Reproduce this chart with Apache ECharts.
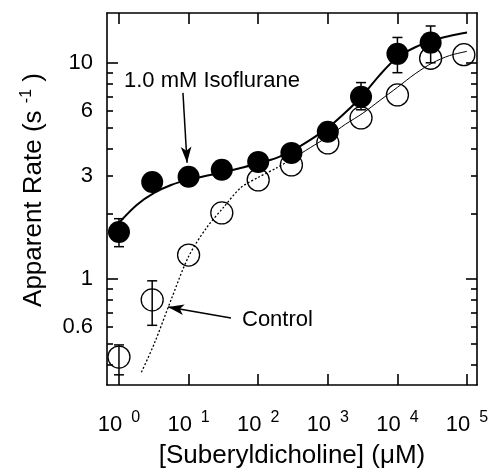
<!DOCTYPE html>
<html>
<head>
<meta charset="utf-8">
<script src="https://cdn.jsdelivr.net/npm/echarts@6/dist/echarts.min.js"></script>
<style>
  html, body { margin: 0; background: #fff; }
  #chart { width: 488px; height: 468px; }
</style>
</head>
<body>
<div id="chart"></div>
<script>
// concentrations in uM, rates in s^-1
const isoX = [1, 3, 10, 30, 100, 300, 1000, 3000, 10000, 30000]
const isoY = [1.65, 2.81, 2.97, 3.2, 3.48, 3.83, 4.8, 6.96, 11.0, 12.4]
const ctrlX = [1, 3, 10, 30, 100, 300, 1000, 3000, 10000, 30000, 90000]
const ctrlY = [0.435, 0.8, 1.29, 2.02, 2.87, 3.37, 4.26, 5.56, 7.1, 10.5, 10.9]

// error bars
const isoErrX = [1, 3000, 10000, 30000]
const isoErrLo = [1.41, 6.06, 9.0, 10.0]
const isoErrHi = [1.9, 8.1, 13.1, 14.8]
const ctrlErrX = [1, 3]
const ctrlErrLo = [0.36, 0.61]
const ctrlErrHi = [0.495, 0.98]

// fitted curves
const isoFitX = [1, 1.8, 3.2, 5.6, 10, 18, 32, 56, 100, 180, 320, 560, 1000, 1800, 3200, 5600, 10000, 18000, 32000, 56000, 100000]
const isoFitY = [1.82, 2.2, 2.5, 2.72, 2.88, 3.0, 3.12, 3.26, 3.43, 3.62, 3.95, 4.4, 5.0, 5.9, 7.1, 8.8, 10.6, 11.8, 12.7, 13.3, 13.8]
const ctrlFitX = [2.1, 3.2, 5.6, 10, 18, 32, 56, 100, 180, 320]
const ctrlFitY = [0.37, 0.5, 0.8, 1.27, 1.72, 2.15, 2.64, 2.95, 3.25, 3.62]
const ctrlFit2X = [320, 560, 1000, 1800, 3200, 5600, 10000, 18000, 32000, 56000, 100000]
const ctrlFit2Y = [3.62, 4.05, 4.55, 5.2, 5.85, 6.7, 7.7, 8.9, 10.0, 10.8, 11.3]

// axes
const xMin = 0.673, xMax = 139000
const yMin = 0.323, yMax = 17.0
const xDecades = [1, 10, 100, 1000, 10000, 100000]
const yMinorTicks = [0.4, 0.5, 0.6, 0.7, 0.8, 0.9, 2, 3, 4, 5, 6, 7, 8, 9]
const yMajorTicks = [1, 10]
const yLabels = [0.6, 1, 3, 6, 10]

const L = Math.log10
const FONT = 'Liberation Sans'
const pts = (xs, ys) => xs.map((x, i) => [L(x), L(ys[i])])
const errs = (xs, lo, hi) => xs.map((x, i) => [L(x), L(lo[i]), L(hi[i])])

const chart = echarts.init(document.getElementById('chart'))

const black = { color: '#000', width: 1.6 }

function xAxis(position, labels) {
  return {
    type: 'value',
    position: position,
    min: L(xMin),
    max: L(xMax),
    axisLine: { show: true, onZero: false, lineStyle: black },
    axisTick: { show: true, inside: true, length: 11, customValues: xDecades.map(L), lineStyle: black },
    axisLabel: {
      show: labels,
      customValues: xDecades.map(L),
      margin: 19,
      formatter: v => '{b|10}{s|' + Math.round(v) + '}',
      rich: {
        b: { fontFamily: FONT, fontSize: 22, color: '#000', padding: [10, 0, 0, 0] },
        s: { fontFamily: FONT, fontSize: 16, color: '#000', padding: [0, 0, 4, 9] },
      },
    },
    splitLine: { show: false },
    name: labels ? '[Suberyldicholine] (\u03bcM)' : '',
    nameLocation: 'middle',
    nameGap: 58,
    nameTextStyle: { fontFamily: FONT, fontSize: 26, color: '#000' },
  }
}

function yAxis(position, ticks, len, line, labels) {
  return {
    type: 'value',
    position: position,
    min: L(yMin),
    max: L(yMax),
    axisLine: { show: line, onZero: false, lineStyle: black },
    axisTick: { show: true, inside: true, length: len, customValues: ticks.map(L), lineStyle: black },
    axisLabel: {
      show: labels,
      customValues: yLabels.map(L),
      margin: 14,
      fontFamily: FONT,
      fontSize: 22,
      color: '#000',
      formatter: v => String(Number(Math.pow(10, v).toPrecision(2))),
    },
    splitLine: { show: false },
    name: labels ? '{t|Apparent Rate (s }{s|-1}{t| )}' : '',
    nameLocation: 'middle',
    nameGap: 58,
    nameTextStyle: {
      padding: [0, 0, 0, 18],
      rich: {
        t: { fontFamily: FONT, fontSize: 26, color: '#000' },
        s: { fontFamily: FONT, fontSize: 16, color: '#000', padding: [0, 0, 14, 0] },
      },
    },
  }
}

function errorBars(data) {
  return {
    type: 'custom',
    data: data,
    encode: { x: 0, y: [1, 2] },
    z: 3,
    silent: true,
    renderItem: (params, api) => {
      const lo = api.coord([api.value(0), api.value(1)])
      const hi = api.coord([api.value(0), api.value(2)])
      const w = 5
      const style = { stroke: '#000', lineWidth: 1.5 }
      return {
        type: 'group',
        children: [
          { type: 'line', shape: { x1: lo[0], y1: lo[1], x2: hi[0], y2: hi[1] }, style: style },
          { type: 'line', shape: { x1: lo[0] - w, y1: lo[1], x2: lo[0] + w, y2: lo[1] }, style: style },
          { type: 'line', shape: { x1: hi[0] - w, y1: hi[1], x2: hi[0] + w, y2: hi[1] }, style: style },
        ],
      }
    },
  }
}

chart.setOption({
  animation: false,
  grid: { left: 107, right: 11, top: 13, bottom: 83, outerBoundsMode: 'none' },
  xAxis: [xAxis('bottom', true), xAxis('top', false)],
  yAxis: [
    yAxis('left', yMinorTicks, 6, true, true),
    yAxis('left', yMajorTicks, 11, false, false),
    yAxis('right', yMinorTicks, 6, true, false),
    yAxis('right', yMajorTicks, 11, false, false),
  ],
  graphic: [
    { type: 'text', left: 124, top: 70, style: { text: '1.0 mM Isoflurane', font: '22px ' + FONT, fill: '#000' } },
    { type: 'text', left: 242, top: 309, style: { text: 'Control', font: '22px ' + FONT, fill: '#000' } },
  ],
  series: [
    {
      name: 'control fit',
      type: 'line',
      data: pts(ctrlFitX, ctrlFitY),
      showSymbol: false,
      smooth: 0.3,
      z: 1,
      lineStyle: { color: '#000', width: 1.3, type: [2, 2] },
    },
    {
      name: 'control fit 2',
      type: 'line',
      data: pts(ctrlFit2X, ctrlFit2Y),
      showSymbol: false,
      smooth: 0.3,
      z: 1,
      lineStyle: { color: '#000', width: 1 },
    },
    {
      name: 'isoflurane fit',
      type: 'line',
      data: pts(isoFitX, isoFitY),
      showSymbol: false,
      smooth: 0.3,
      z: 2,
      lineStyle: { color: '#000', width: 2 },
      markLine: {
        silent: true,
        animation: false,
        label: { show: false },
        lineStyle: { color: '#000', width: 1.5, type: 'solid' },
        data: [
          [
            { coord: [L(8.3), L(7.26)], symbol: 'none' },
            { coord: [L(9.5), L(3.45)], symbol: 'arrow', symbolSize: [8, 16] },
          ],
          [
            { coord: [L(40.6), L(0.66)], symbol: 'none' },
            { coord: [L(5.06), L(0.742)], symbol: 'arrow', symbolSize: [8, 16] },
          ],
        ],
      },
    },
    errorBars(errs(ctrlErrX, ctrlErrLo, ctrlErrHi)),
    errorBars(errs(isoErrX, isoErrLo, isoErrHi)),
    {
      name: 'Control',
      type: 'scatter',
      data: pts(ctrlX, ctrlY),
      symbol: 'circle',
      symbolSize: 22,
      z: 4,
      itemStyle: { color: 'rgba(0,0,0,0)', borderColor: '#000', borderWidth: 1.3, opacity: 1 },
    },
    {
      name: '1.0 mM Isoflurane',
      type: 'scatter',
      data: pts(isoX, isoY),
      symbol: 'circle',
      symbolSize: 22,
      z: 5,
      itemStyle: { color: '#000', opacity: 1 },
    },
  ],
})
</script>
</body>
</html>
